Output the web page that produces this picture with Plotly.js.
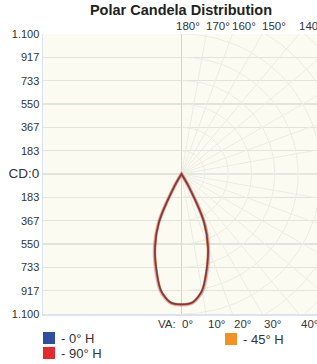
<!DOCTYPE html>
<html><head><meta charset="utf-8">
<script src="https://cdn.plot.ly/plotly-3.0.1.min.js"></script>
<style>html,body{margin:0;padding:0;background:#fff;overflow:hidden}#chart{width:317px;height:364px;}</style>
</head><body><div id="chart"></div>
<script>
// ---- data ----
const verticalAngles = [0, 5, 10, 15, 20, 25, 30, 35, 40, 45, 50, 55, 60, 65, 70, 75, 80, 85, 90];
const cd0H  = [1025, 1012, 930, 768, 608, 420, 105, 0, 0, 0, 0, 0, 0, 0, 0, 0, 0, 0, 0];
const cd45H = [1025, 1012, 931, 770, 610, 425, 125, 0, 0, 0, 0, 0, 0, 0, 0, 0, 0, 0, 0];
const cd90H = [1028, 1015, 937, 778, 618, 428, 110, 0, 0, 0, 0, 0, 0, 0, 0, 0, 0, 0, 0];
const cdTickValues = [1100, 916.7, 733.3, 550, 366.7, 183.3, 0, -183.3, -366.7, -550, -733.3, -916.7, -1100];
const cdTickLabels = ['1.100', '917', '733', '550', '367', '183', 'CD:0', '183', '367', '550', '733', '917', '1.100'];
const topAngleLabels = [180, 170, 160, 150, 140];
const bottomAngleLabels = [0, 10, 20, 30, 40];
const legendNames = ['- 0° H', '- 45° H', '- 90° H'];
const seriesColors = ['#2d4f9e', '#f29222', '#e42a2a'];

// ---- helpers ----
const W = 317, H = 364, ML = 43, MR = 0, MT = 34, MB = 50;
const rad = d => d * Math.PI / 180;
const pxPerCd = (H - MT - MB) / 2200;
const centerPx = 181.5;
const xRange = [-(centerPx - ML) / pxPerCd, (W - MR - centerPx) / pxPerCd];
const FONT = 'Liberation Sans, Arial, sans-serif';

function curve(vals) {
  const xs = [], ys = [];
  for (let i = verticalAngles.length - 1; i >= 0; i--) {
    const a = rad(verticalAngles[i]);
    xs.push(-vals[i] * Math.sin(a)); ys.push(-vals[i] * Math.cos(a));
  }
  for (let i = 1; i < verticalAngles.length; i++) {
    const a = rad(verticalAngles[i]);
    xs.push(vals[i] * Math.sin(a)); ys.push(-vals[i] * Math.cos(a));
  }
  return {xs, ys};
}

// polar grid (right half only)
const gx = [], gy = [];
const step = 1100 / 6;
for (let k = 1; k <= 9; k++) {
  const R = k * step;
  for (let d = 0; d <= 180; d += 2) { gx.push(R * Math.sin(rad(d))); gy.push(-R * Math.cos(rad(d))); }
  gx.push(null); gy.push(null);
}
for (let d = 10; d < 180; d += 10) {
  gx.push(0, 2500 * Math.sin(rad(d)), null); gy.push(0, -2500 * Math.cos(rad(d)), null);
}

const traces = [{x: gx, y: gy, mode: 'lines', line: {color: '#ebede4', width: 1}, showlegend: false, hoverinfo: 'skip'}];

const c45 = curve(cd45H), c90 = curve(cd90H), c0 = curve(cd0H);
traces.push({x: c45.xs, y: c45.ys, mode: 'lines', line: {color: seriesColors[1], width: 2.5, shape: 'spline', smoothing: 0.8}, opacity: 0.6, showlegend: false});
traces.push({x: c90.xs, y: c90.ys, mode: 'lines', line: {color: seriesColors[2], width: 3.5, shape: 'spline', smoothing: 0.8}, opacity: 0.35, showlegend: false});
traces.push({x: c0.xs, y: c0.ys, mode: 'lines', line: {color: '#5e3048', width: 1.7, shape: 'spline', smoothing: 0.8}, opacity: 0.85, showlegend: false});

const annotations = [];
topAngleLabels.forEach(a => {
  const x = 1100 * Math.tan(rad(180 - a));
  annotations.push({x: x, xref: 'x', y: 1, yref: 'paper', yanchor: 'bottom', xanchor: 'left',
    xshift: a === 180 ? -7 : -1, yshift: 1, text: a + '°', showarrow: false, borderpad: 0,
    font: {family: FONT, size: 11.5, color: '#333'}});
});
bottomAngleLabels.forEach(a => {
  const x = 1100 * Math.tan(rad(a));
  annotations.push({x: x, xref: 'x', y: 0, yref: 'paper', yanchor: 'top', xanchor: a === 0 ? 'right' : 'left',
    xshift: a === 0 ? 12 : 1, yshift: -3, text: (a === 0 ? 'VA:  ' : '') + a + '°', showarrow: false, borderpad: 0,
    font: {family: FONT, size: 11.5, color: '#333'}});
});

// legend (manual)
const legendPos = [[43, 338], [225, 339], [43, 353]];
const shapes = [];
const px2x = p => (p - ML) / (W - ML - MR);
const py2y = p => (H - MB - p) / (H - MT - MB);
legendNames.forEach((name, i) => {
  const [lx, ly] = legendPos[i];
  shapes.push({type: 'rect', xref: 'paper', yref: 'paper', x0: px2x(lx), x1: px2x(lx + 12),
    y0: py2y(ly + 6), y1: py2y(ly - 6), fillcolor: seriesColors[i], line: {width: 0}});
  annotations.push({xref: 'paper', yref: 'paper', x: px2x(lx + 17), y: py2y(ly), xanchor: 'left', yanchor: 'middle',
    text: name, showarrow: false, borderpad: 0, font: {family: FONT, size: 13, color: '#333'}});
});

const ticktext = cdTickLabels.map(t => t === 'CD:0' ? '<span style="font-size:13.5px">CD:0</span>' : t);

const layout = {
  width: W, height: H,
  margin: {l: ML, r: MR, t: MT, b: MB, pad: 0},
  paper_bgcolor: '#ffffff', plot_bgcolor: '#fbfbf1',
  title: {text: '<b>Polar Candela Distribution</b>', font: {family: FONT, size: 14.5, color: '#222'},
    x: 181 / W, xanchor: 'center', y: 1 - 10 / H, yanchor: 'middle'},
  xaxis: {range: xRange, showgrid: false, zeroline: true, zerolinecolor: '#d2d5cb', zerolinewidth: 1,
    showticklabels: false, ticks: '', showline: true, linecolor: '#dbe3f0', linewidth: 1.5, fixedrange: true},
  yaxis: {range: [-1100, 1100], tickmode: 'array', tickvals: cdTickValues, ticktext: ticktext,
    showgrid: true, gridcolor: '#e1e4da', gridwidth: 1.5, zeroline: false, ticks: '',
    showline: true, linecolor: '#dbe3f0', linewidth: 1.5, tickfont: {family: FONT, size: 11, color: '#333'},
    fixedrange: true},
  showlegend: false, hovermode: false,
  annotations: annotations, shapes: shapes
};
Plotly.newPlot('chart', traces, layout, {staticPlot: true, displayModeBar: false});
</script></body></html>
